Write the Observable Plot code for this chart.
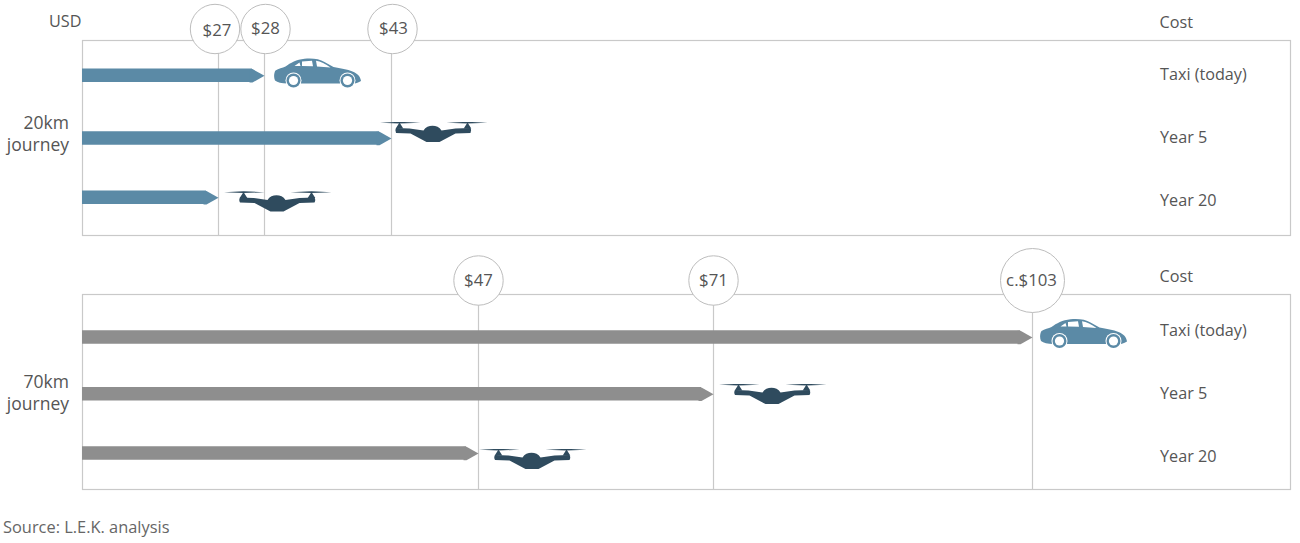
<!DOCTYPE html>
<html>
<head>
<meta charset="utf-8">
<script src="https://cdn.jsdelivr.net/npm/d3@7"></script>
<script src="https://cdn.jsdelivr.net/npm/@observablehq/plot@0.6"></script>
<style>
  html, body { margin: 0; padding: 0; background: #fff; }
  svg { display: block; }
  #source { font: 16.4px "Open Sans", sans-serif; color: #666; margin: 21px 0 0 3px; line-height: 22px; }
</style>
</head>
<body>
<div id="chart"></div>
<div id="source">Source: L.E.K. analysis</div>
<script>
const rows = ["Taxi (today)", "Year 5", "Year 20"];
const vehicles = ["car", "drone", "drone"];
const costs20 = [28, 43, 27];
const costs70 = [103, 71, 47];
const labels20 = ["$27", "$28", "$43"];
const marks20 = [27, 28, 43];
const labels70 = ["$47", "$71", "c.$103"];
const marks70 = [47, 71, 103];
const journey20 = "20km\njourney";
const journey70 = "70km\njourney";

const BLUE = "#5b8aa6", GREY = "#8e8e8e", DARK = "#2f4b5e", LINE = "#c9c9c9", TEXT = "#555555";
const FONT = '"Open Sans", sans-serif';

const carSvg = `<svg xmlns="http://www.w3.org/2000/svg" viewBox="0 0 88 31" width="88" height="31">
<path fill="${BLUE}" d="M1.5 23 C0 20 0.5 15 2 13 C5 11 9 10.5 12 9 C17 5.5 23 2 31 1.3 C39 0.5 46 1.5 51 4.5 L60 9.5 C67 11 74 11.5 79 14 C84 16 87 19 87.5 23.5 C84 25.5 82 26 80 26 L14 26 C8 26 4 25 1.5 23Z"/>
<path fill="#fff" d="M21 8.5 L26 5 L27 8.5Z M28.5 4 L38.5 3.2 L39.5 8.8 L28.5 8.5Z M42.5 3.2 C47 3.6 52 6.5 57 10 L43.5 9Z"/>
<g><circle cx="20" cy="23" r="8" fill="#fff"/><circle cx="20" cy="23" r="7" fill="${BLUE}"/><circle cx="20" cy="23" r="4.6" fill="#fff"/>
<circle cx="74" cy="23" r="8" fill="#fff"/><circle cx="74" cy="23" r="7" fill="${BLUE}"/><circle cx="74" cy="23" r="4.6" fill="#fff"/></g></svg>`;

const droneSvg = `<svg xmlns="http://www.w3.org/2000/svg" viewBox="0 0 108 22" width="108" height="22">
<path fill="${DARK}" d="M0 1.2 L20 0.3 L41 1.2 L20 2.1Z M67 1.2 L88 0.3 L108 1.2 L88 2.1Z"/>
<path fill="${DARK}" d="M20 1 L23.8 7 L16.2 7Z M88 1 L91.8 7 L84.2 7Z"/>
<path fill="${DARK}" d="M16.5 6.6 L30 7 L44 9 C46 5.6 49.5 4.2 53 4.2 C56.5 4.2 60 5.6 62 9 L76 7 L91 6.6 Q92.5 9 91 11.4 L76 12 L60 20.5 L47 20.5 L31 12 L16.5 11.4 Q15 9 16.5 6.6Z"/></svg>`;
const uri = s => "data:image/svg+xml;charset=utf-8," + encodeURIComponent(s);
const icons = {car: {src: uri(carSvg), w: 88, h: 31}, drone: {src: uri(droneSvg), w: 108, h: 22}};
const arrowHead = {draw(c) { c.moveTo(0, 0); c.lineTo(-12, -6.75); c.lineTo(-15, -6.75); c.lineTo(-15, 6.75); c.lineTo(-12, 6.75); c.closePath(); }};

function panel({costs, ticks, tickLabels, color, xDomain, xRange, height, marginTop, yRange, barDy, iconDy, iconDx, circleDy, circleDx, textDx, textDy, bigLabel, journey, journeyDy, headerDy, usd}) {
  const table = rows.map((row, i) => ({row, cost: costs[i], vehicle: vehicles[i]}));
  const tickTable = ticks.map((cost, i) => ({cost, label: tickLabels[i]}));
  const textOpts = {fontSize: 16.2, fill: TEXT, lineAnchor: "middle"};
  const rowMarks = table.flatMap((d, i) => {
    const icon = icons[d.vehicle];
    return [
      Plot.ruleY([d], {x1: 0, x2: "cost", y: "row", dy: barDy[i], stroke: color, strokeWidth: 13.5, insetRight: 12}),
      Plot.dot([d], {x: "cost", y: "row", dy: barDy[i] + 0.5, symbol: arrowHead, r: 5, fill: color}),
      Plot.image([d], {x: "cost", y: "row", dx: iconDx[i], dy: iconDy[i], src: icon.src, width: icon.w, height: icon.h})
    ];
  });
  const tickMarks = tickTable.flatMap((d, i) => [
    Plot.dot([d], {x: "cost", frameAnchor: "top", dx: circleDx[i], dy: circleDy, r: d.label === bigLabel ? 32 : 24.7, fill: "#fff", stroke: "#bdbdbd", strokeWidth: 1}),
    Plot.text([d], {x: "cost", text: "label", frameAnchor: "top", lineAnchor: "middle", dx: textDx[i], dy: circleDy + textDy[i], fontSize: 16.8, fill: TEXT})
  ]);
  return Plot.plot({
    width: 1300, height, marginTop, marginBottom: height - marginTop - 195, marginLeft: 82, marginRight: 10,
    style: {fontFamily: FONT, background: "transparent", overflow: "visible"},
    x: {type: "linear", domain: xDomain, range: xRange, axis: null},
    y: {type: "point", domain: rows, range: yRange, padding: 0, axis: null},
    marks: [
      Plot.frame({stroke: LINE, strokeWidth: 1.2, strokeOpacity: 1}),
      Plot.ruleX(tickTable, {x: "cost", stroke: LINE, strokeWidth: 1.2}),
      ...rowMarks,
      ...tickMarks,
      Plot.text(rows, {y: d => d, text: d => d, frameAnchor: "right", textAnchor: "start", dx: -130.5, ...textOpts}),
      Plot.text(["Cost"], {frameAnchor: "top-right", textAnchor: "start", dx: -131, dy: headerDy, ...textOpts}),
      Plot.text([journey], {y: d => rows[1], frameAnchor: "left", textAnchor: "end", dx: -13.5, dy: journeyDy, ...textOpts, fontSize: 17.5, lineHeight: 1.257}),
      usd ? Plot.text([usd], {frameAnchor: "top-left", textAnchor: "end", dx: -1, dy: -19, ...textOpts}) : null
    ]
  });
}

const chart = document.getElementById("chart");
chart.append(panel({
  costs: costs20, ticks: marks20, tickLabels: labels20, color: BLUE,
  xDomain: [0, 27, 28, 43, 129], xRange: [82, 218, 264, 391, 1290],
  height: 245, marginTop: 40, yRange: [73, 200],
  barDy: [0.8, 0.5, -3.3], iconDy: [-1.5, -5, 1.5], iconDx: [53, 42, 59],
  circleDy: -11.5, circleDx: [-3.5, 1, 1], textDx: [-1.5, 1, 2], textDy: [2, 0, 0],
  journey: journey20, journeyDy: -4.5, headerDy: -18, usd: "USD"
}));
chart.append(panel({
  costs: costs70, ticks: marks70, tickLabels: labels70, color: GREY,
  xDomain: [0, 47, 71, 103, 129], xRange: [82, 478, 713, 1032, 1290],
  height: 250, marginTop: 49, yRange: [84, 211],
  barDy: [6.5, 0.3, -3.5], iconDy: [3, 1, 3], iconDx: [51, 59, 54],
  circleDy: -14, circleDx: [0, 0, 0], textDx: [0, 0, -1], textDy: [0, 0, 0], bigLabel: "c.$103",
  journey: journey70, journeyDy: -1.5, headerDy: -18
}));
</script>
</body>
</html>
